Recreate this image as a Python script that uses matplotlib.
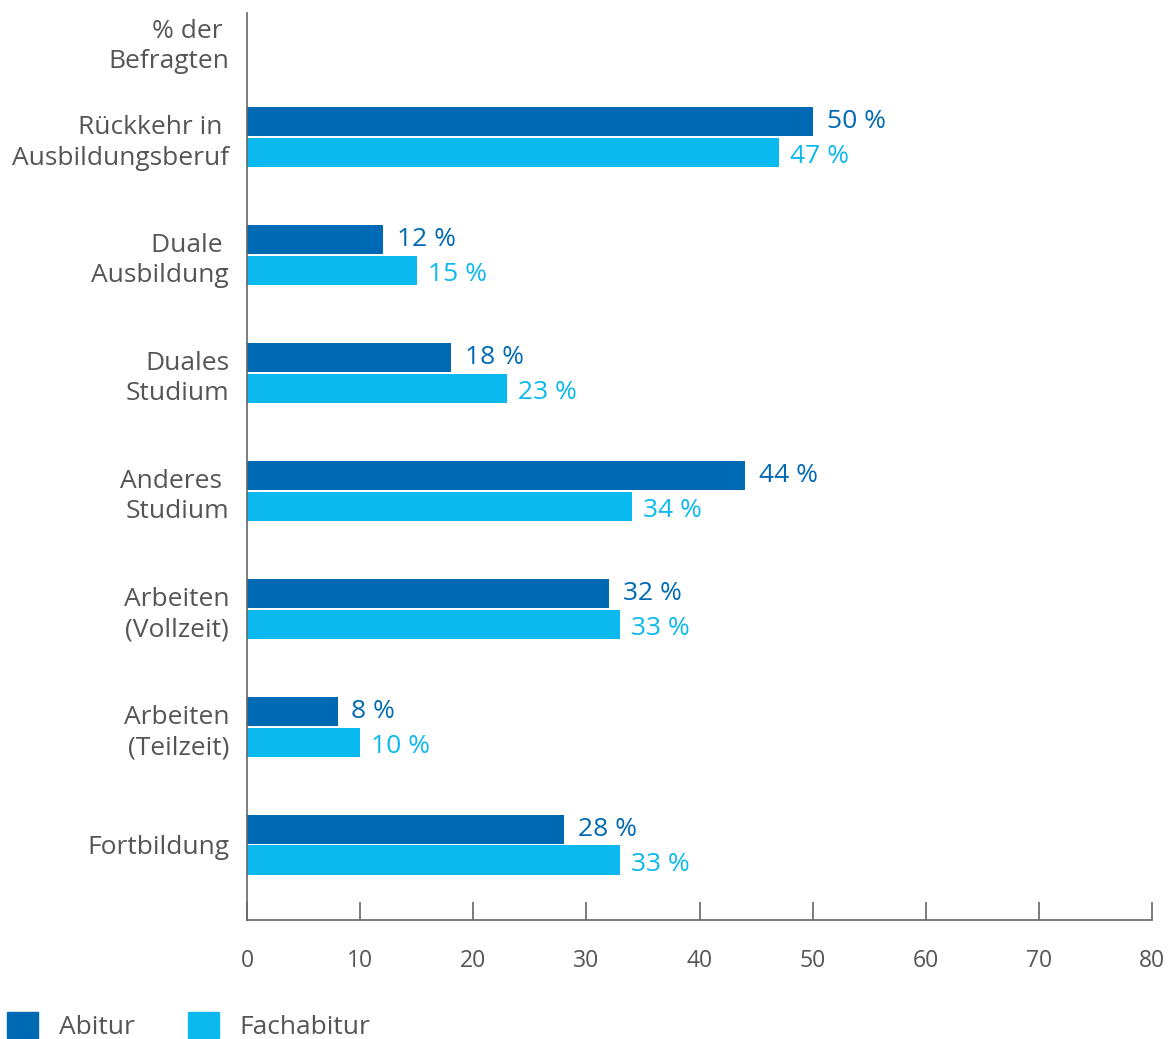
import numpy as np
import matplotlib.pyplot as plt
from matplotlib.patches import Patch

kategorien = ["Rückkehr in \nAusbildungsberuf", "Duale \nAusbildung", "Duales\nStudium",
              "Anderes \nStudium", "Arbeiten\n(Vollzeit)", "Arbeiten\n(Teilzeit)", "Fortbildung"]
abitur = [50, 12, 18, 44, 32, 8, 28]
fachabitur = [47, 15, 23, 34, 33, 10, 33]
kopf = "% der \nBefragten"

dunkel = "#0069B4"
hell = "#0BB9EE"
grau = "#555555"

plt.rcParams['font.family'] = ['Open Sans', 'DejaVu Sans']

fig = plt.figure(figsize=(11.72, 10.39), dpi=100)
ax = fig.add_axes([0.2108, 0.1145, 0.983 - 0.2108, 0.9875 - 0.1145])

y = np.arange(len(kategorien))
h = 0.246
off = 0.131
ax.barh(y - off, abitur, height=h, color=dunkel)
ax.barh(y + off, fachabitur, height=h, color=hell)

for i in range(len(kategorien)):
    ax.annotate(f"{abitur[i]} %", (abitur[i], y[i] - off), xytext=(10, 0), textcoords='offset points',
                va='center', ha='left', color=dunkel, fontsize=19)
    ax.annotate(f"{fachabitur[i]} %", (fachabitur[i], y[i] + off), xytext=(8, -3), textcoords='offset points',
                va='center', ha='left', color=hell, fontsize=19)

ax.set_xlim(0, 80)
ax.set_ylim(6.64, -1.05)
ax.set_xticks(range(0, 81, 10))
ax.set_yticks([-0.815] + list(y))
ax.set_yticklabels([kopf] + kategorien, multialignment='right', linespacing=1.3)
ax.tick_params(axis='y', length=0, pad=13, labelsize=19, labelcolor=grau)
ax.tick_params(axis='x', direction='in', length=13, width=1.2, color='#666666', pad=21,
               labelsize=16.5, labelcolor=grau)
for s in ['top', 'right']:
    ax.spines[s].set_visible(False)
for s in ['left', 'bottom']:
    ax.spines[s].set_color('#666666')
    ax.spines[s].set_linewidth(1.2)

handles = [Patch(color=dunkel, label="Abitur"), Patch(color=hell, label="Fachabitur")]
fig.legend(handles=handles, loc='lower left', bbox_to_anchor=(-0.003, -0.011), ncol=2, frameon=False,
           borderpad=0.0, borderaxespad=0.4, handlelength=1.17, handleheight=1.17, handletextpad=0.8,
           columnspacing=2.0, fontsize=19, labelcolor=grau)

fig.savefig("out.png", dpi=100)
